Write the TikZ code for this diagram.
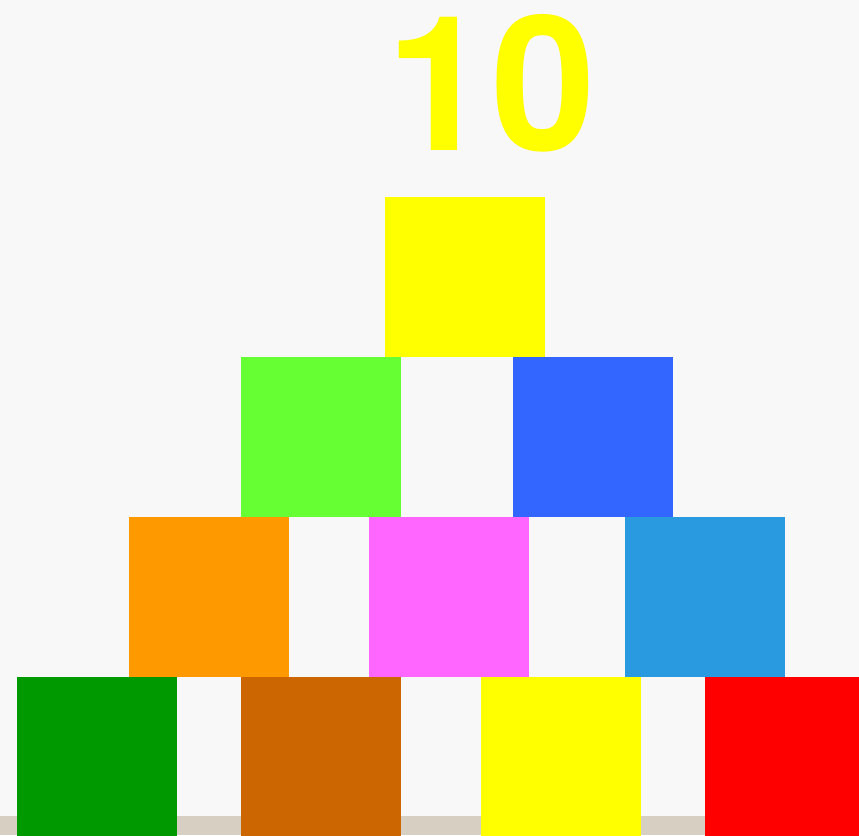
\documentclass[tikz,border=0pt]{standalone}
\usepackage{fontspec}
\setmainfont{Liberation Sans}
\newfontfamily\countfont{TeX Gyre Heros}
\usetikzlibrary{positioning}
\definecolor{paper}{HTML}{F8F8F8}
\definecolor{floorc}{HTML}{D6CFC2}
\definecolor{yelblk}{HTML}{FFFF00}
\definecolor{limeblk}{HTML}{66FF33}
\definecolor{blueblk}{HTML}{3366FF}
\definecolor{orangeblk}{HTML}{FF9900}
\definecolor{pinkblk}{HTML}{FF66FF}
\definecolor{skyblk}{HTML}{2999E0}
\definecolor{greenblk}{HTML}{009900}
\definecolor{brownblk}{HTML}{CC6600}
\definecolor{redblk}{HTML}{FF0000}
\begin{document}
\begin{tikzpicture}[x=1pt,y=-1pt,
  block/.style={draw=none,minimum width=160pt,minimum height=160pt,inner sep=0pt,outer sep=0pt,anchor=north west}]
\useasboundingbox (0,0) rectangle (859,835);
\clip (0,0) rectangle (859,835);
\fill[paper] (0,0) rectangle (859,835);
\fill[floorc] (0,816) rectangle (859,835);
% top
\node[block,fill=yelblk] (top) at (385,197) {};
% second row
\node[block,fill=limeblk] (rowBa) at (241,357) {};
\node[block,fill=blueblk] (rowBb) at (513,357) {};
% third row
\node[block,fill=orangeblk] (rowCa) at (129,517) {};
\node[block,fill=pinkblk] (rowCb) at (369,517) {};
\node[block,fill=skyblk] (rowCc) at (625,517) {};
% bottom row
\node[block,fill=greenblk] (rowDa) at (17,677) {};
\node[block,fill=brownblk] (rowDb) at (241,677) {};
\node[block,fill=yelblk] (rowDc) at (481,677) {};
\node[block,fill=redblk] (rowDd) at (705,677) {};
% count
\node[anchor=base,inner sep=0pt,text height=138pt,text depth=0pt,text=yelblk,font=\countfont\bfseries\fontsize{188}{188}\selectfont] (count) at (491,150) {10};
\end{tikzpicture}
\end{document}
